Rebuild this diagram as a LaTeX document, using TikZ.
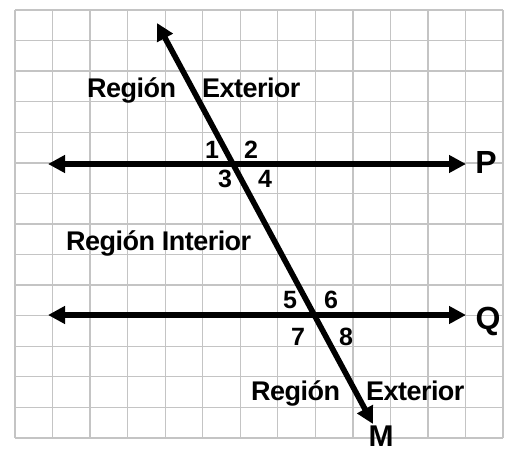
\documentclass[tikz,border=0pt]{standalone}
\usepackage{fontspec}
\setmainfont{Liberation Sans}
\newfontfamily\tightfont[LetterSpace=-2]{Liberation Sans}
\usetikzlibrary{arrows.meta}
\definecolor{gridgray}{HTML}{C4C4C4}
\begin{document}
\begin{tikzpicture}[x=1pt,y=-1pt,
  gridline/.style={draw=gridgray,line width=1.3pt},
  ray/.style={line width=5.6pt,{Triangle[length=17pt,width=17pt]}-{Triangle[length=17pt,width=17pt]}},
  region/.style={font=\tightfont\fontsize{27}{30}\selectfont\bfseries,inner sep=0pt,anchor=base west},
  num/.style={font=\fontsize{25}{30}\selectfont\bfseries,inner sep=0pt,anchor=base},
  lname/.style={font=\fontsize{32}{36}\selectfont\bfseries,inner sep=0pt,anchor=base}]
\fill[white] (0,0) rectangle (512,453);
\useasboundingbox (0,0) rectangle (512,453);
% grid
\foreach \i in {0,...,13} \draw[gridline] (15+37.54*\i,10) -- (15+37.54*\i,438);
\foreach \j in {0,...,14} \draw[gridline] (15,10+30.57*\j) -- (503,10+30.57*\j);
% coordinates
\coordinate (Pl) at (48,164);
\coordinate (Pr) at (466,164);
\coordinate (Ql) at (48,315);
\coordinate (Qr) at (466,315);
\coordinate (Mt) at (157,23);
\coordinate (Mb) at (373,424);
% lines
\draw[ray] (Pl) -- (Pr);
\draw[ray] (Ql) -- (Qr);
\draw[ray] (Mt) -- (Mb);
% labels
\node[lname] (P) at (486,173) {P};
\node[lname] (Q) at (488,329) {Q};
\node[lname,font=\fontsize{30}{34}\selectfont\bfseries] (M) at (381,446) {M};
\node[region] (r1) at (87,97) {Región};
\node[region] (e1) at (202,97) {Exterior};
\node[region] (ri) at (66,250) {Región Interior};
\node[region] (r2) at (251,400) {Región};
\node[region] (e2) at (366,400) {Exterior};
% angle numbers
\node[num] (n1) at (212,158) {1};
\node[num] (n2) at (251,158) {2};
\node[num] (n3) at (225,187) {3};
\node[num] (n4) at (265,187) {4};
\node[num] (n5) at (290,308) {5};
\node[num] (n6) at (331,308) {6};
\node[num] (n7) at (298,345) {7};
\node[num] (n8) at (346,345) {8};
\end{tikzpicture}
\end{document}
